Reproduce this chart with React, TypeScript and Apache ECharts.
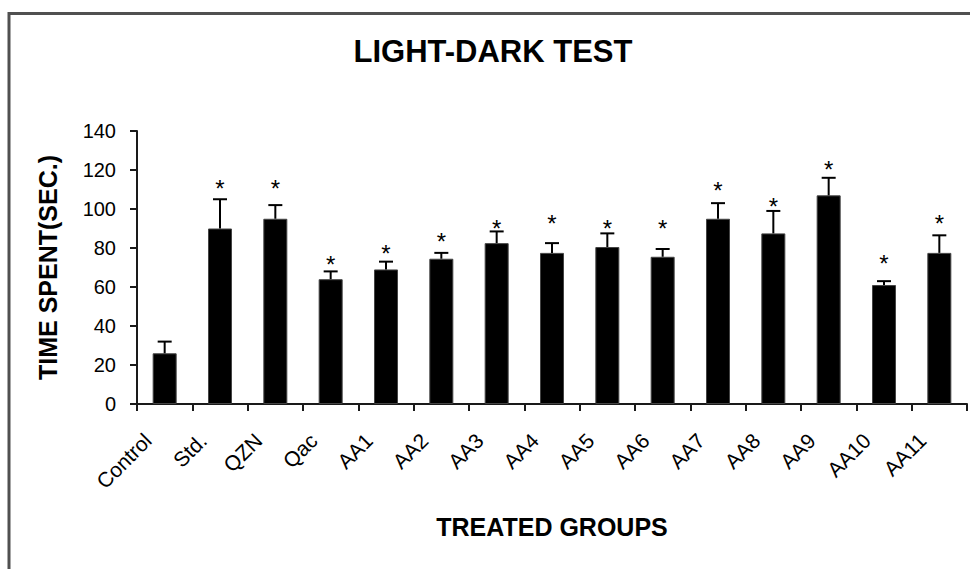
import React, { useEffect, useRef } from "react";
import * as echarts from "echarts";

const categories = ["Control", "Std.", "QZN", "Qac", "AA1", "AA2", "AA3", "AA4", "AA5", "AA6", "AA7", "AA8", "AA9", "AA10", "AA11"];
const means = [26, 90, 95, 64, 69, 74.5, 82.5, 77.5, 80.5, 75.5, 95, 87.5, 107, 61, 77.5];
const errors = [6, 15, 7, 4, 4, 3, 6, 5, 7, 4, 8, 11.5, 9, 2, 9];
const starLevels: (number | null)[] = [null, 113.3, 113.3, 74.2, 79.5, 85.8, 92.8, 94.9, 92.8, 92.8, 112.3, 104, 123, 74.4, 94.9];
const yTicks = { min: 0, max: 140, interval: 20 };

const FONT = "'Liberation Sans', Arial, sans-serif";

export default function App() {
  const ref = useRef<HTMLDivElement>(null);
  useEffect(() => {
    if (!ref.current) return;
    const chart = echarts.init(ref.current, null, { renderer: "svg" });
    const errData = categories.map((_, i) => [i, means[i], errors[i], starLevels[i] == null ? -1 : starLevels[i]]);
    chart.setOption({
      animation: false,
      backgroundColor: "#fff",
      graphic: [
        {
          type: "rect",
          shape: { x: 9, y: 13.5, width: 1000, height: 600 },
          style: { fill: "none", stroke: "#505050", lineWidth: 3 },
          silent: true,
        },
        {
          type: "text",
          x: 493,
          y: 51,
          style: {
            text: "LIGHT-DARK TEST",
            font: `bold 31px ${FONT}`,
            fill: "#000",
            align: "center",
            verticalAlign: "middle",
          },
        },
      ],
      grid: { left: 137, right: 3, top: 131, bottom: 165, containLabel: false },
      xAxis: {
        type: "category",
        data: categories,
        name: "TREATED GROUPS",
        nameLocation: "middle",
        nameGap: 110,
        nameTextStyle: { fontFamily: FONT, fontWeight: "bold", fontSize: 25, color: "#000" },
        axisLine: { lineStyle: { color: "#1a1a1a", width: 2 } },
        axisTick: { show: true, length: 7, inside: false, lineStyle: { color: "#1a1a1a", width: 2 } },
        axisLabel: {
          interval: 0,
          rotate: 45,
          fontFamily: FONT,
          fontSize: 21,
          color: "#000",
          margin: 16,
          padding: [0, 24, 0, 0],
        },
        splitLine: { show: false },
      },
      yAxis: {
        type: "value",
        min: yTicks.min,
        max: yTicks.max,
        interval: yTicks.interval,
        name: "TIME SPENT(SEC.)",
        nameLocation: "middle",
        nameGap: 77,
        nameTextStyle: { fontFamily: FONT, fontWeight: "bold", fontSize: 25, color: "#000" },
        axisLine: { show: true, lineStyle: { color: "#1a1a1a", width: 2 } },
        axisTick: { show: true, length: 7, lineStyle: { color: "#1a1a1a", width: 2 } },
        axisLabel: { fontFamily: FONT, fontSize: 20, color: "#000", margin: 21 },
        splitLine: { show: false },
      },
      series: [
        {
          type: "bar",
          data: means,
          barWidth: 24,
          itemStyle: { color: "#000", borderColor: "#444", borderWidth: 1 },
        },
        {
          type: "custom",
          data: errData,
          z: 5,
          renderItem: (params: any, api: any) => {
            const i = api.value(0);
            const m = api.value(1);
            const e = api.value(2);
            const s = api.value(3);
            const base = api.coord([i, m]);
            const top = api.coord([i, m + e]);
            const half = 7;
            const children: any[] = [
              {
                type: "line",
                shape: { x1: base[0], y1: base[1], x2: top[0], y2: top[1] },
                style: { stroke: "#000", lineWidth: 2 },
              },
              {
                type: "line",
                shape: { x1: top[0] - half, y1: top[1], x2: top[0] + half, y2: top[1] },
                style: { stroke: "#000", lineWidth: 2 },
              },
            ];
            if (s > 0) {
              const sp = api.coord([i, s]);
              children.push({
                type: "text",
                x: sp[0],
                y: sp[1] + 5,
                style: {
                  text: "*",
                  font: `24px ${FONT}`,
                  fill: "#000",
                  align: "center",
                  verticalAlign: "middle",
                },
              });
            }
            return { type: "group", children };
          },
        },
      ],
    });
    return () => chart.dispose();
  }, []);
  return (
    <div
      ref={ref}
      style={{ position: "fixed", left: 0, top: 0, width: 970, height: 569, background: "#fff" }}
    />
  );
}
